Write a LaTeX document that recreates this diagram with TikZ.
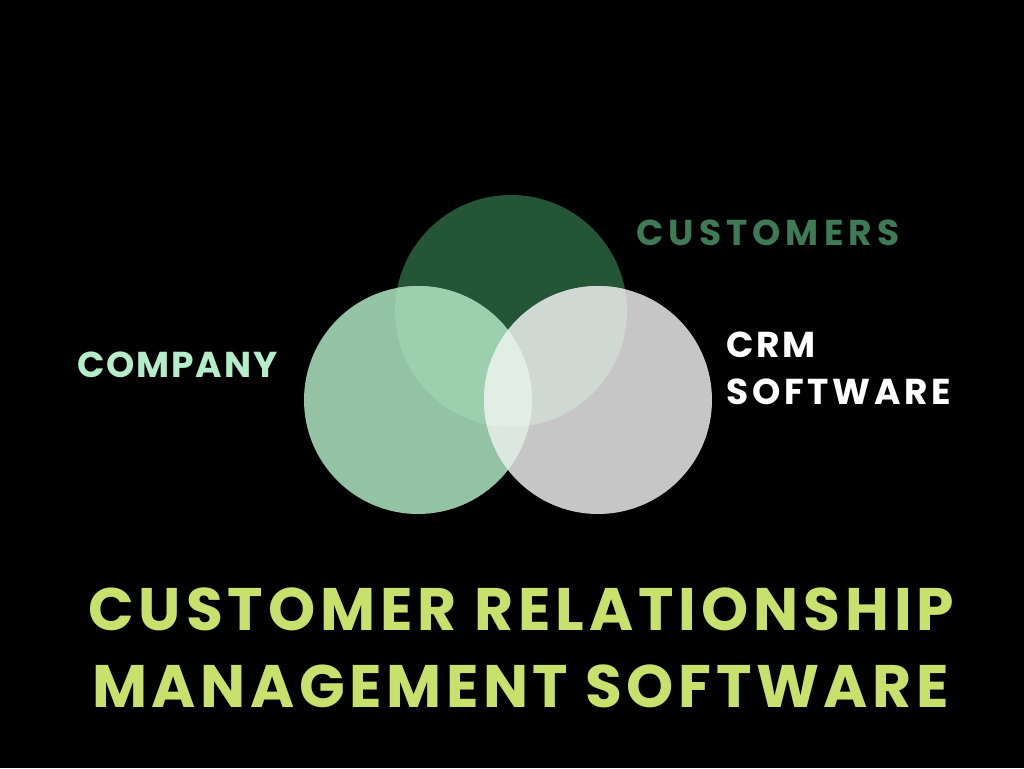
\documentclass[tikz,border=0pt]{standalone}
\usepackage{fontspec}
\setmainfont{Poppins}
\definecolor{topc}{HTML}{245536}
\definecolor{leftc}{HTML}{93C2A4}
\definecolor{rightc}{HTML}{C6C6C6}
\definecolor{tlc}{HTML}{9CCFAE}
\definecolor{trc}{HTML}{CFD8D3}
\definecolor{lrc}{HTML}{DCE7E0}
\definecolor{allc}{HTML}{E2EDE6}
\definecolor{custc}{HTML}{3D7A55}
\definecolor{compc}{HTML}{B5ECC9}
\definecolor{titc}{HTML}{C8E06C}
\tikzset{
  lab/.style={anchor=base west, inner sep=0pt, font=\bfseries\fontsize{36}{44}\selectfont\addfontfeature{LetterSpace=#1}},
  tit/.style={anchor=base west, inner sep=0pt, font=\bfseries\fontsize{60}{72}\selectfont\addfontfeature{LetterSpace=#1}, text=titc}
}
\begin{document}
\begin{tikzpicture}[x=1pt,y=-1pt]
\fill[black] (0,0) rectangle (1024,768);
\useasboundingbox (0,0) rectangle (1024,768);
\coordinate (T) at (511,311);
\coordinate (L) at (418,400);
\coordinate (R) at (598,400);
\def\rT{116pt}
\def\rL{114pt}
\fill[topc] (T) circle[radius=\rT];
\fill[leftc] (L) circle[radius=\rL];
\fill[rightc] (R) circle[radius=\rL];
\begin{scope}
  \clip (T) circle[radius=\rT];
  \fill[tlc] (L) circle[radius=\rL];
  \fill[trc] (R) circle[radius=\rL];
\end{scope}
\begin{scope}
  \clip (L) circle[radius=\rL];
  \fill[lrc] (R) circle[radius=\rL];
  \clip (R) circle[radius=\rL];
  \fill[allc] (T) circle[radius=\rT];
\end{scope}
\node[lab=14, text=custc] (cust) at (636,245) {CUSTOMERS};
\node[lab=7, text=white] (crm) at (726,357) {CRM};
\node[lab=10.5, text=white] (soft) at (726,404) {SOFTWARE};
\node[lab=5.2, text=compc] (comp) at (77,377) {COMPANY};
\node[tit=8.2] (t1) at (88,630) {CUSTOMER RELATIONSHIP};
\node[tit=7.6] (t2) at (92,707) {MANAGEMENT SOFTWARE};
\end{tikzpicture}
\end{document}
